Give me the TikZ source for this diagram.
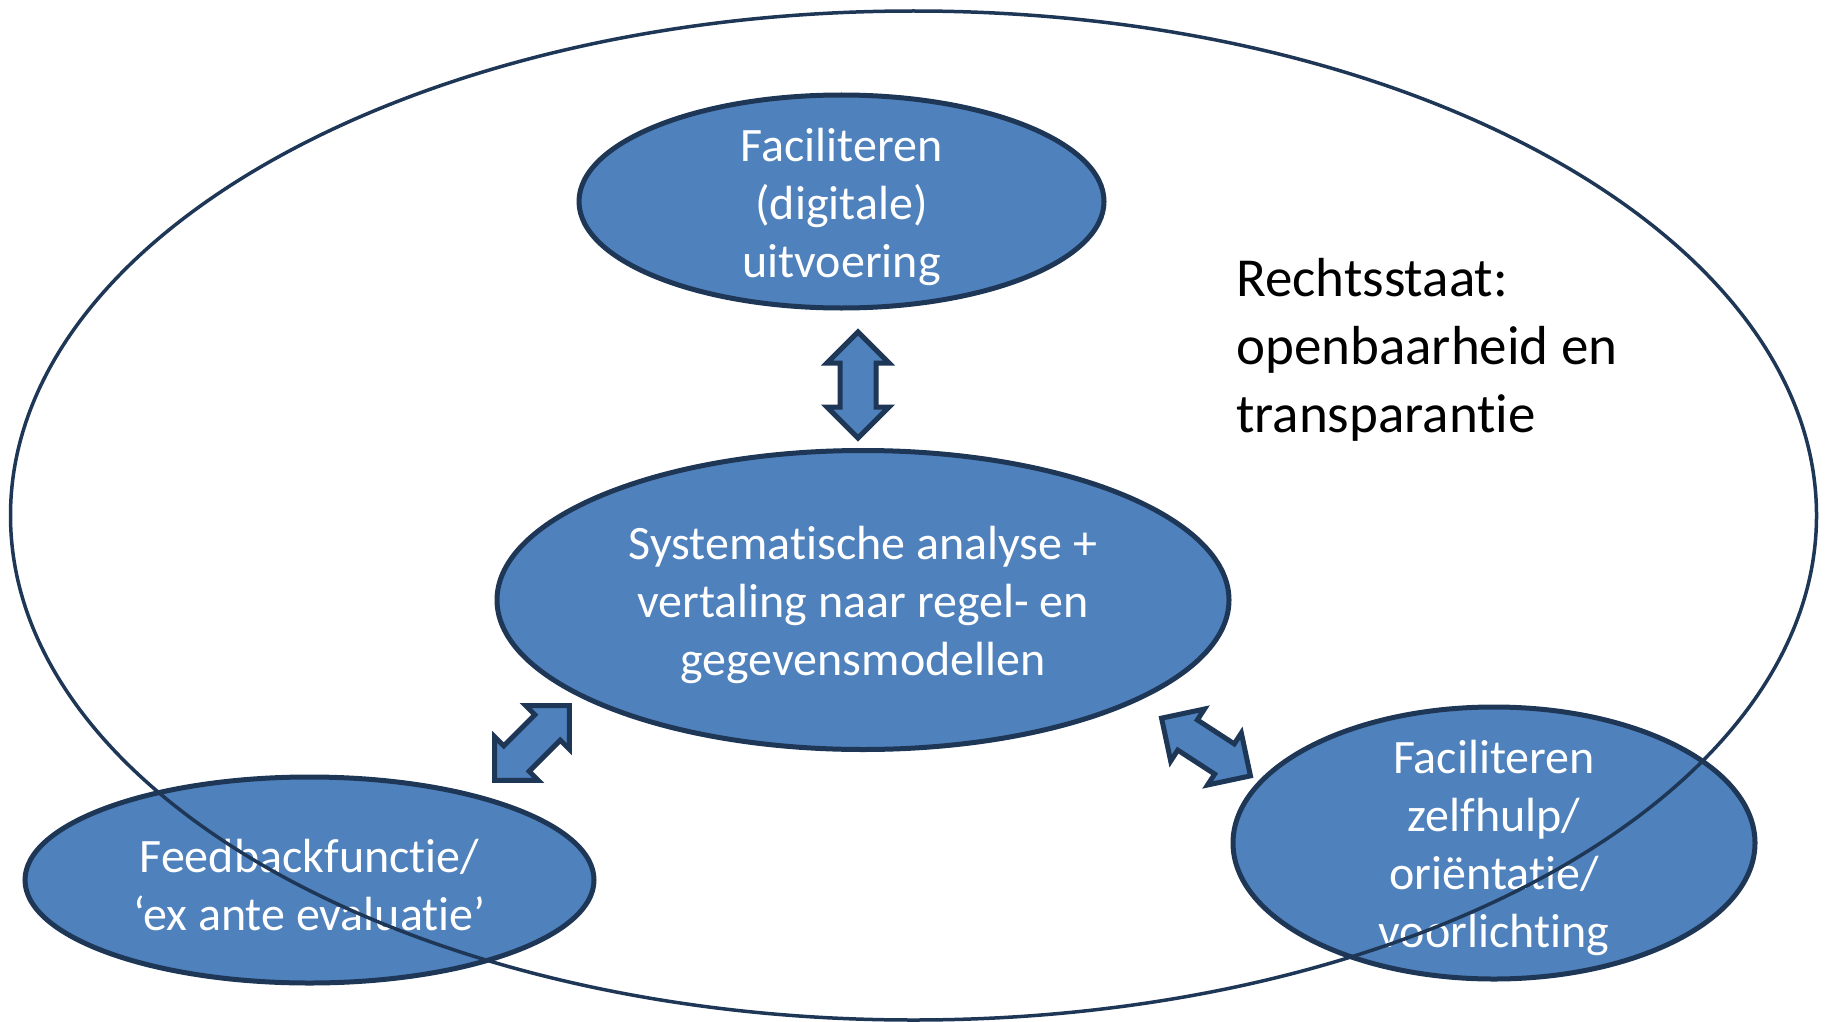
\documentclass[tikz,border=0pt]{standalone}
\usepackage{fontspec}
\setmainfont{Carlito}[Ligatures={NoCommon}]
\usetikzlibrary{shapes.geometric,shapes.arrows}
\definecolor{vlakblauw}{HTML}{4F81BD}
\definecolor{randblauw}{HTML}{1F3756}
\tikzset{
  blob/.style={ellipse, draw=randblauw, line width=5pt, fill=vlakblauw, inner sep=0pt},
  blobtekst/.style={text=white, align=center, yshift=-5pt, font=\fontsize{48}{58}\selectfont},
  pijl/.style={double arrow, draw=randblauw, line width=5pt, fill=vlakblauw,
    minimum height=106pt, inner xsep=0pt, inner ysep=15.5pt,
    double arrow head extend=13pt},
}
\begin{document}
\begin{tikzpicture}[x=1pt,y=-1pt]
  \useasboundingbox (0,0) rectangle (1825,1022);
  % The four functions.
  \node[blob, minimum width=525pt, minimum height=213pt,
    label={[blobtekst]center:Faciliteren\\(digitale)\\uitvoering}] (uitvoering) at (841.5,201.5) {};
  \node[blob, minimum width=732pt, minimum height=299pt,
    label={[blobtekst]center:Systematische analyse +\\vertaling naar regel- en\\gegevensmodellen}] (analyse) at (863,600) {};
  \node[blob, minimum width=569pt, minimum height=206pt,
    label={[blobtekst]center:Feedbackfunctie/\\‘ex ante evaluatie’}] (feedback) at (309.5,880) {};
  \node[blob, minimum width=522pt, minimum height=272pt,
    label={[blobtekst]center:Faciliteren\\zelfhulp/\\oriëntatie/\\voorlichting}] (zelfhulp) at (1494,843) {};
  % Block arrows between the functions.
  \node[pijl, rotate=90] (pijlboven) at (858,385) {};
  \node[pijl, rotate=45] (pijllinks) at (532,743) {};
  \node[pijl, rotate=-33] (pijlrechts) at (1206,747) {};
  % The rule of law around everything.
  \node[ellipse, draw=randblauw, line width=3.5pt, inner sep=0pt,
    minimum width=1806pt, minimum height=1009pt] (staat) at (913.5,515.5) {};
  \node[anchor=west, align=left, inner sep=0pt, font=\fontsize{55}{68}\selectfont]
    (rechtsstaat) at (1236,350) {Rechtsstaat:\\openbaarheid en\\transparantie};
\end{tikzpicture}
\end{document}
